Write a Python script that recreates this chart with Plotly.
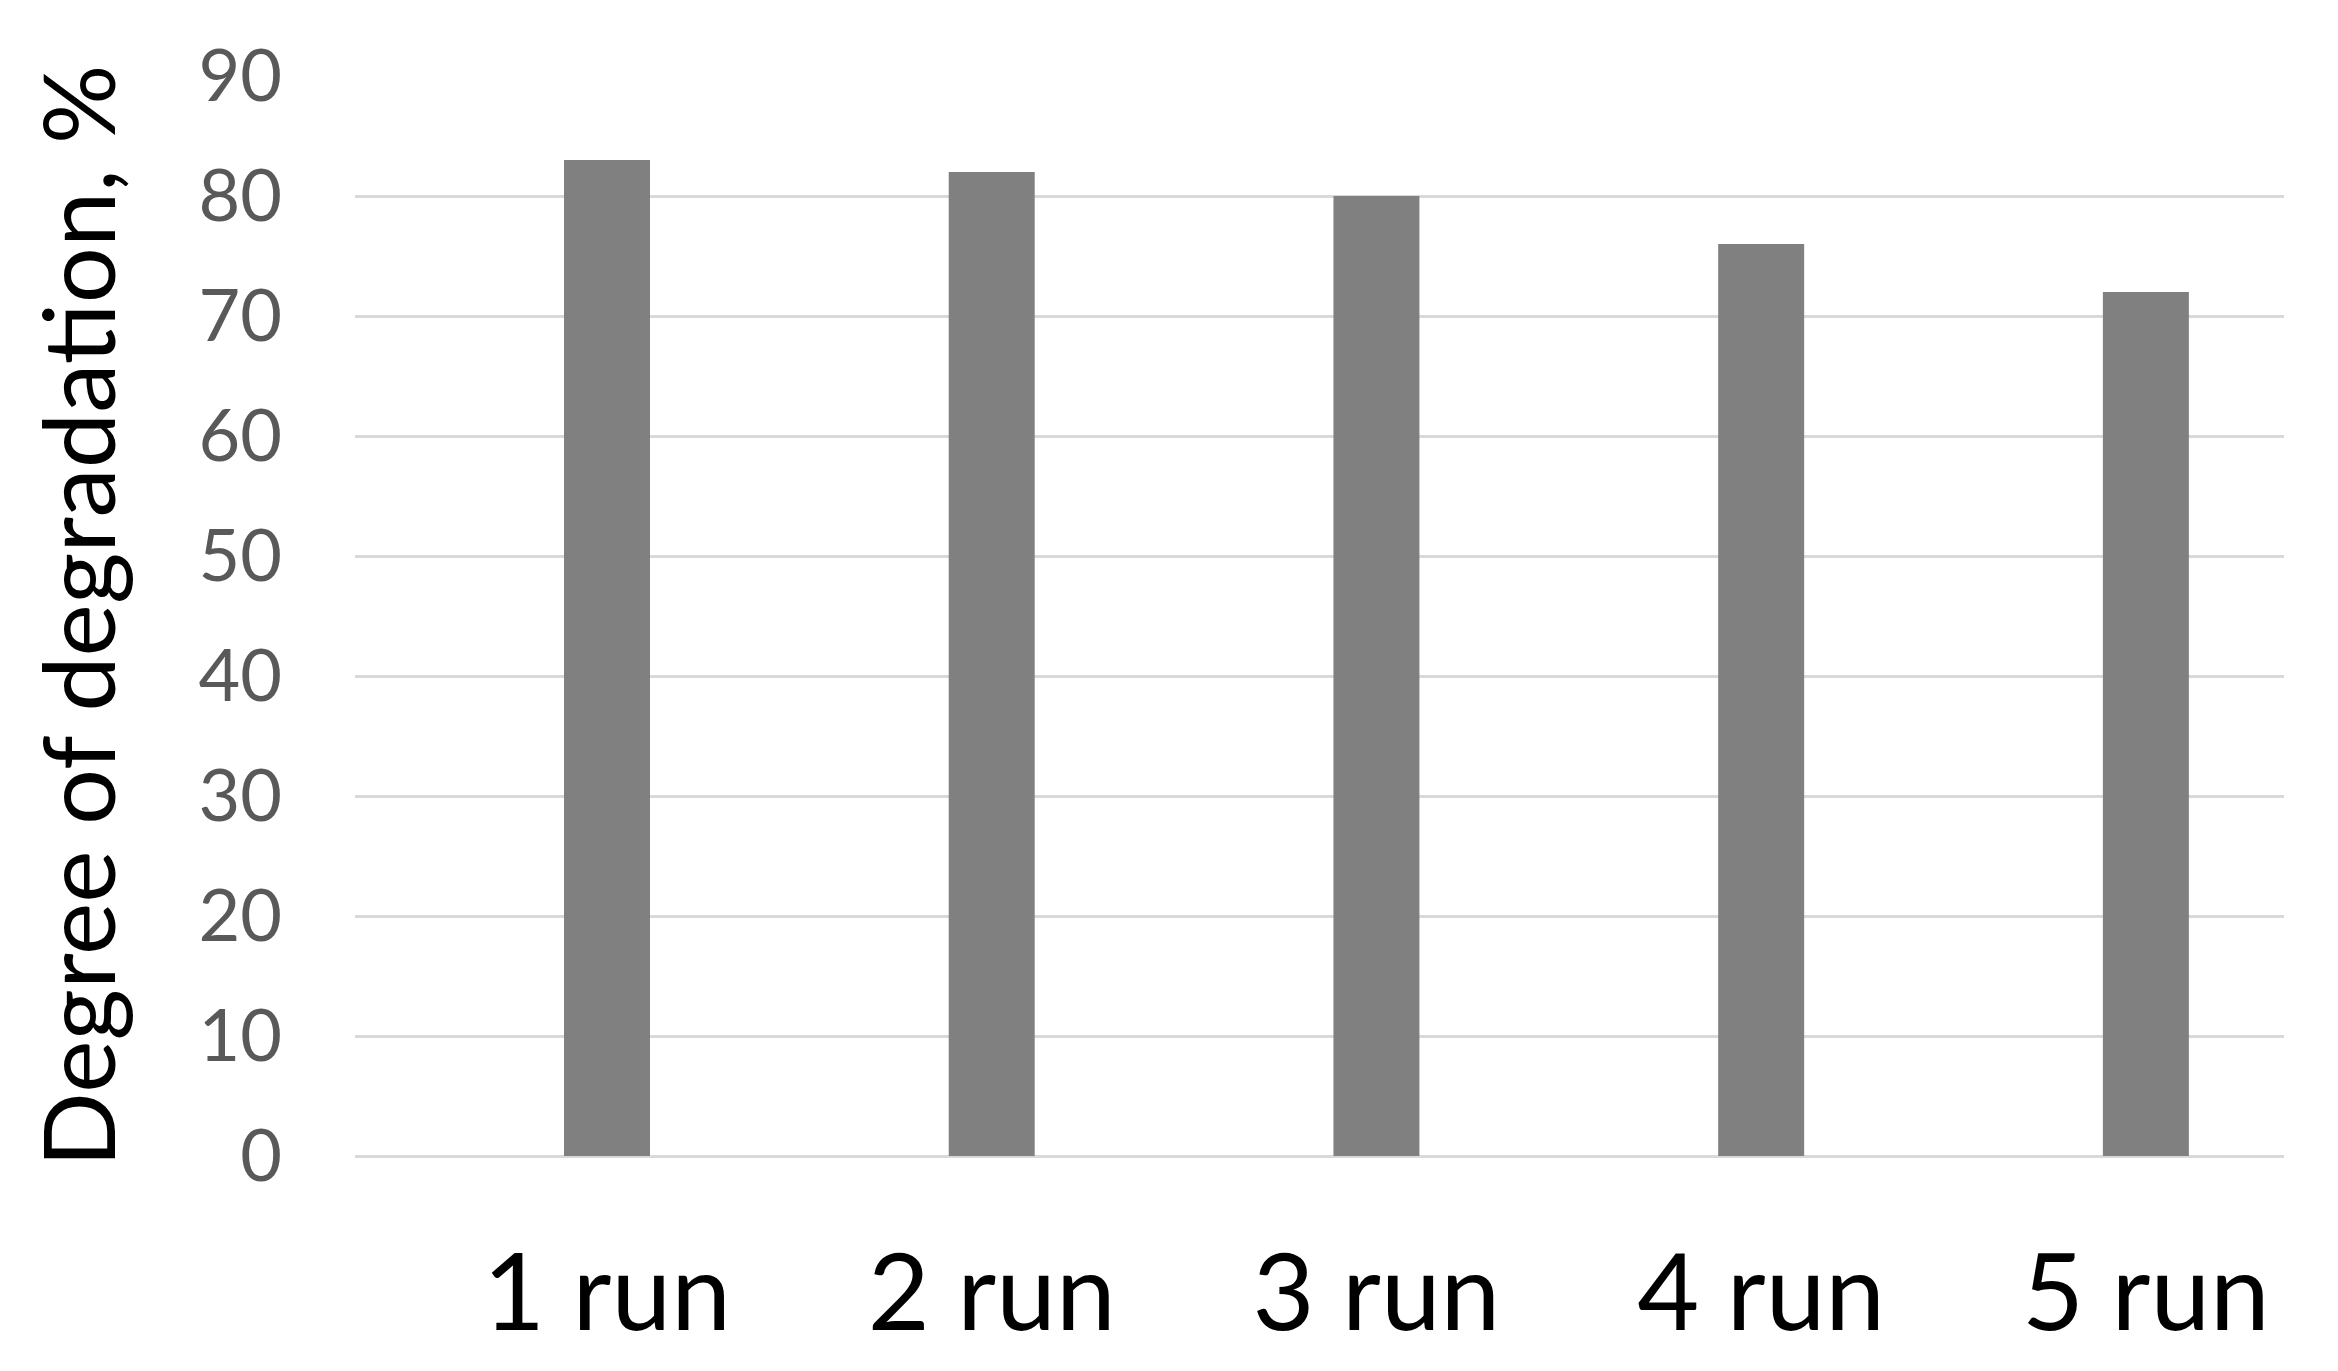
import plotly.graph_objects as go

# data
runs = ['1 run', '2 run', '3 run', '4 run', '5 run']
degradation = [83, 82, 80, 76, 72]
y_ticks = [0, 10, 20, 30, 40, 50, 60, 70, 80, 90]

fig = go.Figure()

fig.add_trace(go.Bar(x=runs, y=degradation, marker_color='#808080', marker_line_width=0))

# page body adds an 8px margin, so left/top are 8px smaller than measured
fig.update_layout(
    width=2338, height=1371,
    paper_bgcolor='white', plot_bgcolor='white',
    margin=dict(l=347, r=62, t=68, b=223),
    bargap=0.7765,
    showlegend=False,
    font=dict(family='Lato', color='black'),
)

# the bars sit a bit right of the centre of the plot area in the original
fig.update_xaxes(
    range=[-0.655, 4.359],
    tickfont=dict(size=107, color='black'),
    ticklabelstandoff=66,
    showgrid=False, showline=False, ticks='',
)

fig.update_yaxes(
    range=[0, 90],
    tickvals=y_ticks,
    tickfont=dict(size=72, color='#595959'),
    ticklabelstandoff=72,
    showgrid=True, gridcolor='#d9d9d9', gridwidth=3,
    zeroline=True, zerolinecolor='#d9d9d9', zerolinewidth=3,
    showline=False, ticks='',
    title=dict(text='Degree of degradation, %', font=dict(size=99, color='black'), standoff=49),
)

fig.write_html("out.html")
